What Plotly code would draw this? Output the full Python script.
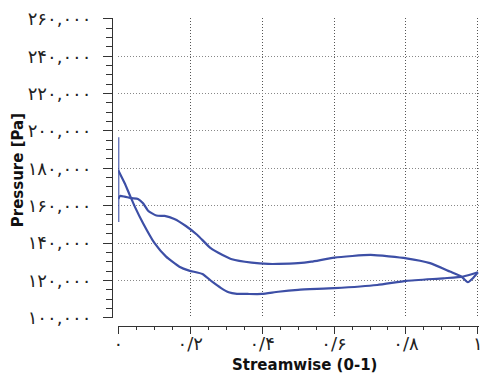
import plotly.graph_objects as go

# ---- data ----
# side with the bump (starts ~165k at the leading edge)
upper_x = [0.0, 0.005, 0.018, 0.037, 0.055, 0.069, 0.083, 0.106, 0.129, 0.156, 0.188, 0.220,
           0.257, 0.290, 0.316, 0.371, 0.417, 0.445, 0.5, 0.537, 0.601, 0.702, 0.801, 0.867,
           0.922, 0.954, 0.972, 0.986, 1.0]
upper_y = [163500, 165200, 164800, 164000, 163600, 161300, 157300, 154700, 154500, 152900, 149100, 144300,
           137200, 133600, 131300, 129500, 128800, 128800, 129200, 130000, 132200, 133600, 131800, 129200,
           124700, 122000, 119000, 121100, 124300]

# leading-edge spike at x = 0
le_x = [0.0, 0.0, 0.0, 0.0]
le_y = [163500, 151300, 196600, 179000]

# side that drops steeply
lower_x = [0.0, 0.018, 0.032, 0.046, 0.069, 0.101, 0.133, 0.170, 0.197, 0.234, 0.261, 0.285,
           0.307, 0.330, 0.360, 0.399, 0.445, 0.5, 0.601, 0.720, 0.801, 0.904, 0.959, 1.0]
lower_y = [179000, 172000, 165700, 159500, 150600, 139900, 132700, 127300, 125200, 123400, 119300, 116000,
           113600, 112800, 112700, 112700, 113900, 114900, 115800, 117500, 119700, 121100, 122000, 124300]

x_tickvals = [0, 0.2, 0.4, 0.6, 0.8, 1.0]
x_ticktext = ["۰", "۰/۲", "۰/۴", "۰/۶", "۰/۸", "۱"]
y_tickvals = [100000, 120000, 140000, 160000, 180000, 200000, 220000, 240000, 260000]
y_ticktext = ["۱۰۰,۰۰۰", "۱۲۰,۰۰۰", "۱۴۰,۰۰۰", "۱۶۰,۰۰۰", "۱۸۰,۰۰۰",
              "۲۰۰,۰۰۰", "۲۲۰,۰۰۰", "۲۴۰,۰۰۰", "۲۶۰,۰۰۰"]

LINE = "#3d4fa6"
AX = "#333333"
TICKFONT = dict(family="DejaVu Sans, Tahoma, sans-serif", size=18, color="#222222")
TITLEFONT = dict(family="DejaVu Sans, Verdana, sans-serif", size=15, color="#111111")

fig = go.Figure()
fig.add_trace(go.Scatter(x=upper_x, y=upper_y, mode="lines",
                         line=dict(color=LINE, width=2.2, shape="spline", smoothing=0.5),
                         showlegend=False, hoverinfo="skip"))
fig.add_trace(go.Scatter(x=le_x, y=le_y, mode="lines",
                         line=dict(color=LINE, width=2.2),
                         showlegend=False, hoverinfo="skip"))
fig.add_trace(go.Scatter(x=lower_x, y=lower_y, mode="lines",
                         line=dict(color=LINE, width=2.2, shape="spline", smoothing=0.5),
                         showlegend=False, hoverinfo="skip"))

fig.update_layout(
    width=485, height=375,
    margin=dict(l=112, r=2, t=18, b=49),
    paper_bgcolor="white", plot_bgcolor="white",
    showlegend=False,
    xaxis=dict(
        domain=[0.017, 1], range=[0, 1.003], anchor="free", position=0,
        tickmode="array", tickvals=x_tickvals, ticktext=x_ticktext,
        showgrid=True, gridcolor="#555555", griddash="1px,2px", gridwidth=1,
        zeroline=False, showline=True, linecolor=AX, linewidth=1,
        ticks="outside", ticklen=7, tickcolor=AX, tickwidth=1,
        ticklabelstandoff=-6, tickfont=TICKFONT, ticklabeloverflow="allow",
        minor=dict(tickmode="linear", tick0=0, dtick=0.05, ticks="outside",
                   ticklen=3, tickcolor=AX, showgrid=False),
    ),
    yaxis=dict(
        domain=[0.027, 1], range=[100000, 260500], anchor="free", position=0,
        tickmode="array", tickvals=y_tickvals, ticktext=y_ticktext,
        showgrid=True, gridcolor="#888888", griddash="1px,2px", gridwidth=1,
        zeroline=False, showline=True, linecolor=AX, linewidth=1,
        ticks="outside", ticklen=9, tickcolor=AX, tickwidth=1,
        ticklabelstandoff=8, tickfont=TICKFONT, ticklabeloverflow="allow",
        minor=dict(tickmode="linear", tick0=0, dtick=5000, ticks="outside",
                   ticklen=6, tickcolor=AX, showgrid=False),
    ),
    annotations=[
        dict(text="<b>Streamwise (0-1)</b>", xref="paper", yref="paper",
             x=0.524, y=-0.127, xanchor="center", yanchor="middle",
             showarrow=False, font=TITLEFONT),
        dict(text="<b>Pressure [Pa]</b>", xref="paper", yref="paper",
             x=-0.254, y=0.505, xanchor="center", yanchor="middle",
             textangle=-90, showarrow=False, font=TITLEFONT),
    ],
)

fig.write_html("out.html")
